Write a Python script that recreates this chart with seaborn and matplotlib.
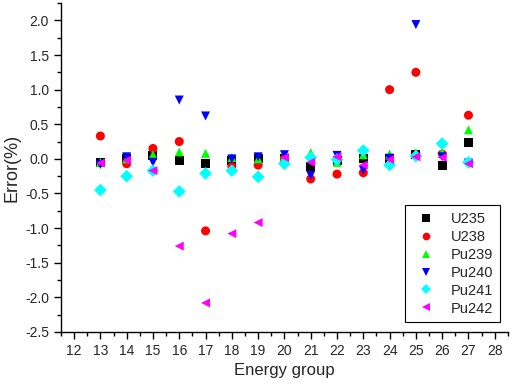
import numpy as np
import pandas as pd
import matplotlib
matplotlib.use("Agg")
import matplotlib.pyplot as plt
from matplotlib.ticker import MultipleLocator, FormatStrFormatter
import seaborn as sns

# energy groups and errors (%) per nuclide
groups = [13, 14, 15, 16, 17, 18, 19, 20, 21, 22, 23, 24, 25, 26, 27]
u235 = [-0.05, 0.00, 0.05, -0.03, -0.07, -0.02, 0.00, 0.00, -0.11, -0.02, 0.00, 0.00, 0.07, -0.10, 0.23]
u238 = [0.33, -0.07, 0.15, 0.25, -1.04, -0.11, -0.09, 0.00, -0.29, -0.22, -0.20, 1.00, 1.25, 0.07, 0.63]
pu239 = [-0.05, 0.00, 0.06, 0.10, 0.08, 0.02, 0.00, 0.03, 0.09, -0.05, 0.06, 0.07, 0.09, 0.10, 0.42]
pu240 = [-0.08, 0.03, -0.05, 0.85, 0.62, 0.00, 0.03, 0.06, -0.24, 0.05, -0.16, 0.01, 1.94, 0.03, -0.06]
pu241 = [-0.45, -0.25, -0.17, -0.47, -0.21, -0.17, -0.26, -0.07, 0.02, -0.01, 0.12, -0.09, 0.04, 0.22, -0.05]
pu242 = [-0.06, -0.02, -0.17, -1.26, -2.08, -1.08, -0.92, 0.02, -0.05, 0.03, -0.09, -0.01, 0.03, 0.02, -0.07]

names = ["U235", "U238", "Pu239", "Pu240", "Pu241", "Pu242"]
series = [u235, u238, pu239, pu240, pu241, pu242]
colors = ["black", "red", "#00ff00", "#0000ff", "#00ffff", "#ff00ff"]
markers = ["s", "o", "^", "v", "D", "<"]

df = pd.concat([pd.DataFrame({"group": groups, "error": vals, "nuclide": n})
                for n, vals in zip(names, series)], ignore_index=True)

sns.set_theme(style="ticks")
plt.rcParams["font.family"] = ["Liberation Sans", "DejaVu Sans"]
plt.rcParams["axes.unicode_minus"] = False

fig = plt.figure(figsize=(5.12, 3.86), dpi=100)
ax = fig.add_axes([0.119, 0.14, 0.873, 0.852])

sns.scatterplot(data=df, x="group", y="error", hue="nuclide", style="nuclide",
                hue_order=names, style_order=names,
                palette=dict(zip(names, colors)), markers=dict(zip(names, markers)),
                s=42, linewidth=0, ax=ax)

ax.set_xlim(11.5, 28.5)
ax.set_ylim(-2.5, 2.25)
ax.xaxis.set_major_locator(MultipleLocator(1))
ax.xaxis.set_minor_locator(MultipleLocator(0.5))
ax.yaxis.set_major_locator(MultipleLocator(0.5))
ax.yaxis.set_minor_locator(MultipleLocator(0.25))
ax.yaxis.set_major_formatter(FormatStrFormatter("%.1f"))
ax.tick_params(which="major", direction="out", length=5, width=1, labelsize=10, color="black")
ax.tick_params(which="minor", direction="out", length=3, width=1, color="black")
for sp in ["left", "bottom"]:
    ax.spines[sp].set_color("black")
    ax.spines[sp].set_linewidth(1)
sns.despine(ax=ax)

ax.set_xlabel("Energy group", fontsize=12, labelpad=4)
ax.set_ylabel("Error(%)", fontsize=13, labelpad=3)

leg = ax.legend(loc="lower right", bbox_to_anchor=(0.982, 0.03), borderaxespad=0,
                fontsize=10.5, frameon=True, fancybox=False, edgecolor="black",
                framealpha=1, handletextpad=0.7, labelspacing=0.27, borderpad=0.45,
                markerscale=0.85)
leg.get_frame().set_linewidth(0.8)

fig.savefig("out.png", dpi=100)
